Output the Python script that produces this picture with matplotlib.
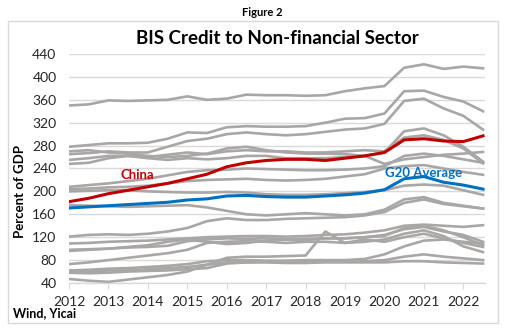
import matplotlib
matplotlib.use("Agg")
import matplotlib.pyplot as plt
from matplotlib.patches import Rectangle

plt.rcParams['font.family'] = ['Lato', 'DejaVu Sans']

# semi-annual observation dates
dates = [2012.0, 2012.5, 2013.0, 2013.5, 2014.0, 2014.5, 2015.0, 2015.5, 2016.0, 2016.5, 2017.0,
         2017.5, 2018.0, 2018.5, 2019.0, 2019.5, 2020.0, 2020.5, 2021.0, 2021.5, 2022.0, 2022.5]

china = [182, 188, 196, 202, 208, 214, 222, 230, 243, 250, 254, 256, 256, 254, 258, 262, 268, 290, 292, 288, 287, 297]
g20 = [171, 173, 175, 177, 179, 181, 185, 187, 192, 193, 191, 190, 190, 192, 194, 197, 203, 222, 226, 216, 211, 204]

gray_series = [
    [350, 352, 359, 358, 359, 360, 366, 360, 362, 369, 368, 368, 367, 368, 375, 380, 384, 416, 422, 414, 418, 415],
    [278, 281, 284, 284, 285, 292, 303, 302, 312, 314, 313, 313, 314, 320, 327, 328, 336, 375, 376, 365, 357, 340],
    [265, 267, 270, 268, 268, 278, 288, 292, 300, 303, 300, 298, 300, 304, 308, 310, 318, 358, 362, 345, 332, 308],
    [270, 272, 268, 266, 262, 260, 262, 266, 275, 278, 272, 268, 266, 266, 265, 262, 268, 305, 310, 298, 278, 252],
    [255, 258, 262, 262, 260, 264, 268, 265, 270, 272, 270, 270, 268, 268, 270, 272, 270, 294, 298, 290, 275, 249],
    [248, 250, 258, 262, 258, 255, 258, 256, 258, 262, 262, 258, 258, 258, 260, 262, 248, 256, 260, 264, 266, 269],
    [208, 211, 214, 218, 222, 228, 234, 237, 238, 240, 239, 238, 237, 237, 238, 240, 244, 262, 266, 262, 256, 250],
    [204, 205, 207, 208, 210, 214, 218, 220, 221, 222, 220, 219, 220, 222, 226, 230, 240, 244, 246, 240, 234, 229],
    [200, 201, 202, 202, 200, 199, 198, 198, 199, 198, 195, 194, 194, 195, 197, 199, 202, 210, 212, 210, 202, 194],
    [176, 175, 174, 173, 174, 175, 176, 172, 166, 160, 158, 160, 162, 160, 158, 160, 168, 186, 190, 180, 175, 170],
    [121, 124, 125, 124, 126, 130, 136, 148, 153, 150, 150, 152, 153, 154, 155, 158, 164, 180, 186, 178, 174, 170],
    [109, 110, 112, 113, 114, 116, 118, 120, 121, 122, 122, 121, 122, 124, 125, 128, 132, 140, 142, 140, 138, 141],
    [98, 99, 100, 102, 103, 105, 113, 116, 118, 117, 118, 116, 115, 118, 118, 120, 124, 134, 138, 130, 124, 112],
    [96, 98, 100, 103, 106, 112, 116, 112, 108, 110, 114, 116, 117, 118, 118, 120, 122, 136, 140, 132, 120, 106],
    [47, 44, 42, 46, 50, 54, 60, 72, 84, 86, 86, 87, 88, 130, 110, 116, 112, 120, 126, 118, 110, 103],
    [73, 76, 80, 84, 88, 92, 98, 110, 112, 113, 112, 110, 112, 112, 110, 112, 116, 126, 132, 122, 104, 94],
    [62, 63, 65, 66, 68, 70, 73, 78, 80, 80, 79, 79, 80, 80, 80, 82, 90, 104, 114, 116, 112, 109],
    [60, 60, 62, 62, 64, 66, 68, 72, 76, 76, 77, 78, 78, 78, 79, 78, 80, 86, 90, 86, 83, 80],
    [58, 57, 58, 60, 61, 62, 64, 66, 74, 76, 76, 75, 75, 76, 76, 76, 76, 78, 78, 76, 75, 74],
]

year_ticks = list(range(2012, 2023))
y_ticks = list(range(40, 441, 40))

W, H = 514, 335
fig = plt.figure(figsize=(W / 100, H / 100), dpi=100)
fig.patch.set_facecolor('white')

# outer chart border
fig.patches.append(Rectangle((8 / W, 1 - 323 / H), 490 / W, 302 / H, transform=fig.transFigure,
                             fill=False, edgecolor='#D9D9D9', linewidth=1.0))

ax = fig.add_axes([69 / W, 1 - 283 / H, 416 / W, 229 / H])
ax.set_xlim(2012, 2022.55)
ax.set_ylim(40, 440)
ax.set_yticks(y_ticks)
ax.set_xticks(year_ticks)
ax.set_xticklabels([str(y) for y in year_ticks])
ax.grid(axis='y', color='#D9D9D9', linewidth=1.0)
ax.set_axisbelow(True)
for s in ['top', 'right', 'left']:
    ax.spines[s].set_visible(False)
ax.spines['bottom'].set_color('#D9D9D9')
ax.spines['bottom'].set_linewidth(1.0)
ax.tick_params(axis='y', length=0, pad=9, labelsize=10, labelcolor='#262626')
ax.tick_params(axis='x', length=4, color='#D9D9D9', pad=5, labelsize=10, labelcolor='#262626')

for s in gray_series:
    ax.plot(dates, s, color='#A9A6A6', linewidth=1.9, solid_joinstyle='round', zorder=2)
ax.plot(dates, g20, color='#0070C0', linewidth=2.2, zorder=3)
ax.plot(dates, china, color='#C00000', linewidth=2.2, zorder=4)

ax.text(2013.74, 229, 'China', color='#C00000', fontsize=9.5, fontweight='bold', ha='center', va='center', zorder=5)
ax.text(2021.0, 232, 'G20 Average', color='#0070C0', fontsize=9.5, fontweight='bold', ha='center', va='center', zorder=5)

fig.text(20 / W, 1 - 191 / H, 'Percent of GDP', rotation=90, ha='center', va='center',
         fontsize=9.5, fontweight='bold')

fig.text(262 / W, 1 - 13 / H, 'Figure 2', ha='center', va='center', fontsize=8, fontweight='bold')
fig.text(277 / W, 1 - 38 / H, 'BIS Credit to Non-financial Sector', ha='center', va='center',
         fontsize=13.5, fontweight='bold')
fig.text(13 / W, 1 - 313 / H, 'Wind, Yicai', ha='left', va='center', fontsize=9, fontweight='bold')

fig.savefig('out.png', dpi=100)
